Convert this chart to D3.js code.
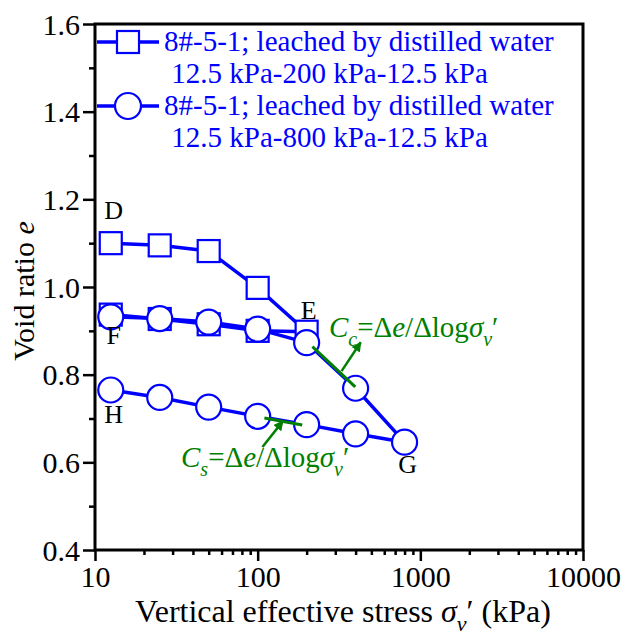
<!DOCTYPE html>
<html>
<head>
<meta charset="utf-8">
<script src="https://cdn.jsdelivr.net/npm/d3@7"></script>
<style>
  html, body { margin: 0; padding: 0; background: #fff; }
  svg { display: block; }
</style>
</head>
<body>
<svg id="chart" width="625" height="638"></svg>
<script>
// Oedometer test, sample 8#-5-1 leached by distilled water
const sqStress = [12.5, 25, 50, 100, 200, 100, 50, 25, 12.5];
const sqVoid   = [1.100, 1.095, 1.082, 0.998, 0.898, 0.900, 0.915, 0.927, 0.937];

const ciStress = [12.5, 25, 50, 100, 200, 400, 800, 400, 200, 100, 50, 25, 12.5];
const ciVoid   = [0.932, 0.928, 0.920, 0.904, 0.873, 0.769, 0.646, 0.665, 0.686, 0.705, 0.726, 0.748, 0.765];

const seriesNames = [
  ["8#-5-1; leached by distilled water", " 12.5 kPa-200 kPa-12.5 kPa"],
  ["8#-5-1; leached by distilled water", " 12.5 kPa-800 kPa-12.5 kPa"]
];

const xTicks = [10, 100, 1000, 10000];
const yTicks = [0.4, 0.6, 0.8, 1.0, 1.2, 1.4, 1.6];

// point labels: [stress, void ratio, text]
const pointLabels = [
  [12.5, 1.155, "D"],
  [200, 0.928, "E"],
  [12.5, 0.870, "F"],
  [12.5, 0.690, "H"],
  [800, 0.575, "G"]
];

const blue = "#0000ff";
const green = "#008000";
const FONT = "Liberation Serif, serif";
const BASE = 26;   // text is set at this size and enlarged with a transform

const svg = d3.select("#chart");
const L = 95, T = 24, R = 583, B = 550;

const x = d3.scaleLog().domain([10, 10000]).range([L, R]);
const y = d3.scaleLinear().domain([0.4, 1.6]).range([B, T]);

// text group anchored at (px,py), drawn at BASE size and scaled to `size`
function textAt(px, py, size, rotate) {
  const k = size / BASE;
  const g = svg.append("g")
    .attr("transform", `translate(${px},${py})${rotate ? ` rotate(${rotate})` : ""} scale(${k})`);
  const t = g.append("text").attr("font-size", BASE).attr("font-family", FONT);
  t.k = k;
  return t;
}

// frame
svg.append("rect")
  .attr("x", L).attr("y", T).attr("width", R - L).attr("height", B - T)
  .attr("fill", "none").attr("stroke", "#000").attr("stroke-width", 3);

// bottom axis: major + minor ticks
const minorX = [];
for (let d = 10; d < 10000; d *= 10) for (let k = 2; k <= 9; k++) minorX.push(d * k);

const gx = svg.append("g").attr("transform", `translate(0,${B})`);
gx.call(d3.axisBottom(x).tickValues(xTicks).tickSize(11).tickSizeOuter(0).tickFormat(d3.format("d")));
const gxm = svg.append("g").attr("transform", `translate(0,${B})`);
gxm.call(d3.axisBottom(x).tickValues(minorX).tickSize(5).tickSizeOuter(0).tickFormat(""));

// left axis: major + minor ticks
const minorY = d3.range(0.5, 1.6, 0.2).map(v => +v.toFixed(1));
const gy = svg.append("g").attr("transform", `translate(${L},0)`);
gy.call(d3.axisLeft(y).tickValues(yTicks).tickSize(12).tickSizeOuter(0).tickFormat(d3.format(".1f")));
const gym = svg.append("g").attr("transform", `translate(${L},0)`);
gym.call(d3.axisLeft(y).tickValues(minorY).tickSize(6).tickSizeOuter(0).tickFormat(""));

[gx, gxm, gy, gym].forEach(g => {
  g.attr("font-family", FONT);
  g.select(".domain").remove();
  g.selectAll(".tick line").attr("stroke", "#000").attr("stroke-width", 2.5);
});
const kTick = 30 / BASE;
gx.selectAll(".tick text")
  .attr("transform", `scale(${kTick})`)
  .attr("y", 16 / kTick).attr("dy", "0.71em")
  .attr("font-size", BASE).attr("fill", "#000").attr("font-family", FONT);
gy.selectAll(".tick text")
  .attr("transform", `scale(${kTick})`)
  .attr("x", -15 / kTick).attr("dy", "0.34em")
  .attr("font-size", BASE).attr("fill", "#000").attr("font-family", FONT);

// axis titles
const xt = textAt(343, 622, 32).attr("text-anchor", "middle").attr("fill", "#000");
xt.append("tspan").text("Vertical effective stress ");
xt.append("tspan").attr("font-style", "italic").text("σ");
xt.append("tspan").attr("font-style", "italic").attr("font-size", 22 / xt.k).attr("dy", 9 / xt.k).text("v");
xt.append("tspan").attr("dy", -9 / xt.k).text("′ (kPa)");

const yt = textAt(34, 291, 30, -90).attr("text-anchor", "middle").attr("fill", "#000");
yt.append("tspan").text("Void ratio ");
yt.append("tspan").attr("font-style", "italic").text("e");

// series
const line = d3.line().x(d => x(d[0])).y(d => y(d[1]));
const sqData = sqStress.map((s, i) => [s, sqVoid[i]]);
const ciData = ciStress.map((s, i) => [s, ciVoid[i]]);

function drawSeries(data, shape) {
  const g = svg.append("g");
  g.append("path").datum(data).attr("d", line)
    .attr("fill", "none").attr("stroke", blue).attr("stroke-width", 3.5)
    .attr("stroke-linejoin", "round");
  if (shape === "square") {
    g.selectAll("rect").data(data).join("rect")
      .attr("x", d => x(d[0]) - 11).attr("y", d => y(d[1]) - 11)
      .attr("width", 22).attr("height", 22)
      .attr("fill", "#fff").attr("stroke", blue).attr("stroke-width", 2.2);
  } else {
    g.selectAll("circle").data(data).join("circle")
      .attr("cx", d => x(d[0])).attr("cy", d => y(d[1])).attr("r", 12.5)
      .attr("fill", "#fff").attr("stroke", blue).attr("stroke-width", 2.2);
  }
}
drawSeries(sqData, "square");
drawSeries(ciData, "circle");

// point labels
svg.append("g").selectAll("text").data(pointLabels).join("text")
  .attr("x", d => x(d[0]) + (d[2] === "E" ? 2 : 3)).attr("y", d => y(d[1]))
  .attr("text-anchor", "middle")
  .attr("font-size", BASE).attr("font-family", FONT).attr("fill", "#000")
  .text(d => d[2]);

// slope annotations
svg.append("defs").append("marker")
  .attr("id", "arrowGreen").attr("viewBox", "0 0 10 10")
  .attr("refX", 9).attr("refY", 5)
  .attr("markerWidth", 4).attr("markerHeight", 4)
  .attr("orient", "auto-start-reverse")
  .append("path").attr("d", "M0,0 L10,5 L0,10 Z").attr("fill", green);

const ccLine = [[217, 0.864], [398, 0.772]];
const ccArrow = [[328, 0.808], [430, 0.874]];
const csLine = [[110, 0.701], [188, 0.685]];
const csArrow = [[107, 0.635], [143, 0.694]];

[ccLine, csLine].forEach(seg => {
  svg.append("path").datum(seg).attr("d", line)
    .attr("stroke", green).attr("stroke-width", 3).attr("fill", "none");
});
[ccArrow, csArrow].forEach(seg => {
  svg.append("path").datum(seg).attr("d", line)
    .attr("stroke", green).attr("stroke-width", 2.5).attr("fill", "none")
    .attr("marker-end", "url(#arrowGreen)");
});

function slopeLabel(px, py, sub) {
  const t = textAt(px, py, 29).attr("fill", green);
  const s = 20 / t.k, dy = 9 / t.k;
  t.append("tspan").attr("font-style", "italic").text("C");
  t.append("tspan").attr("font-style", "italic").attr("font-size", s).attr("dy", dy).text(sub);
  t.append("tspan").attr("dy", -dy).text("=Δ");
  t.append("tspan").attr("font-style", "italic").text("e");
  t.append("tspan").text("/Δlog");
  t.append("tspan").attr("font-style", "italic").text("σ");
  t.append("tspan").attr("font-style", "italic").attr("font-size", s).attr("dy", dy).text("v");
  t.append("tspan").attr("dy", -dy).text("′");
}
slopeLabel(329, 337, "c");
slopeLabel(181, 467, "s");

// legend
const legendRows = [
  { ly: 42, shape: "square", lines: seriesNames[0] },
  { ly: 106, shape: "circle", lines: seriesNames[1] }
];
legendRows.forEach(r => {
  svg.append("line").attr("x1", 97).attr("x2", 159).attr("y1", r.ly).attr("y2", r.ly)
    .attr("stroke", blue).attr("stroke-width", 3.5);
  if (r.shape === "square") {
    svg.append("rect").attr("x", 128 - 11).attr("y", r.ly - 11).attr("width", 22).attr("height", 22)
      .attr("fill", "#fff").attr("stroke", blue).attr("stroke-width", 2.2);
  } else {
    svg.append("circle").attr("cx", 128).attr("cy", r.ly).attr("r", 13)
      .attr("fill", "#fff").attr("stroke", blue).attr("stroke-width", 2.2);
  }
  r.lines.forEach((s, i) => {
    textAt(164, r.ly + 9 + i * 32, 29).attr("fill", blue)
      .attr("xml:space", "preserve")
      .text(s);
  });
});
</script>
</body>
</html>
